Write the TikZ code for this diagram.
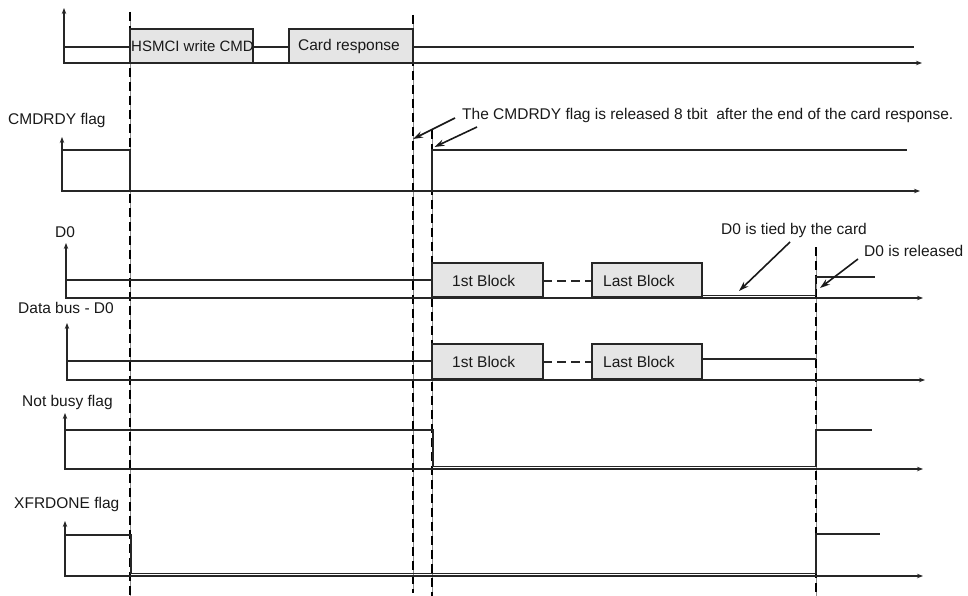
\documentclass[tikz,border=0pt]{standalone}
\usepackage{fontspec}
\setmainfont{Liberation Sans}
\usetikzlibrary{arrows.meta}
\begin{document}
\begin{tikzpicture}[x=1pt,y=-1pt,
  font=\fontsize{15.5}{18}\selectfont,
  sig/.style={line width=1.8pt, draw=black!85},
  axis/.style={line width=1.6pt, draw=black!85, {Stealth[length=6pt,width=4.5pt]}-{Stealth[length=6pt,width=4.5pt]}},
  blk/.style={draw=black!85, line width=2.2pt, fill=black!10},
  lbl/.style={inner sep=0pt, text=black!90},
  note/.style={line width=1.6pt, draw=black!90, -{Stealth[length=10pt,width=6.5pt]}},
  guide/.style={draw=black!45, line width=0.7pt},
  guidedash/.style={draw=black, line width=1.8pt, dash pattern=on 9pt off 5pt}
]
\useasboundingbox (0,0) rectangle (968,596);

% ---- vertical guides ----
\foreach \gx/\gt/\gb in {130/12/596, 413/15/593, 432/130/596, 816/247/596}{
  \draw[guide] (\gx,\gt) -- (\gx,\gb);
  \draw[guidedash] (\gx,\gt) -- (\gx,\gb);
}

% ---- row 1 : command line ----
\draw[axis] (64,8) -- (64,63) -- (922,63);
\draw[sig] (64,46.7) -- (130,46.7);
\draw[blk] (130,29) rectangle (253,63);
\draw[sig] (253,46.7) -- (289,46.7);
\draw[blk] (289,29) rectangle (413,63);
\draw[sig] (413,46.7) -- (914,46.7);
\node[lbl, anchor=west, font=\fontsize{15}{18}\selectfont] (cmd) at (131,46.5) {HSMCI write CMD};
\node[lbl] (resp) at (349,46.5) {Card response};

% ---- row 2 : CMDRDY ----
\node[lbl, anchor=west] (cmdrdy) at (8,120) {CMDRDY flag};
\draw[axis] (62,137) -- (62,191) -- (920,191);
\draw[sig] (62,150) -- (130,150) -- (130,190.5) -- (432,190.5) -- (432,150) -- (907,150);
\node[lbl, anchor=west] (note1) at (462,115) {The CMDRDY flag is released 8 tbit\ \ after the end of the card response.};
\coordinate (n1a) at (455,118);
\coordinate (n1b) at (413,139);
\coordinate (n2a) at (477,127);
\coordinate (n2b) at (434.5,147);
\draw[note] (n1a) -- (n1b);
\draw[note] (n2a) -- (n2b);

% ---- row 3 : D0 ----
\node[lbl] (d0) at (65,232) {D0};
\draw[axis] (66,243) -- (66,298) -- (923,298);
\draw[sig] (66,280) -- (432,280);
\draw[blk] (432,263) rectangle (543,297.5);
\draw[sig, dash pattern=on 9pt off 5pt] (543,281) -- (592,281);
\draw[blk] (592,263) rectangle (702,297.5);
\draw[sig] (702,295.5) -- (815.5,295.5) -- (815.5,277) -- (875,277);
\node[lbl, anchor=west] (b1a) at (452,281) {1st Block};
\node[lbl, anchor=west] (bla) at (603,281) {Last Block};
\node[lbl, anchor=west] (tied) at (721,230) {D0 is tied by the card};
\node[lbl, anchor=west] (rel) at (864,251) {D0 is released};
\coordinate (t1a) at (790,242);
\coordinate (t1b) at (739,291);
\coordinate (r1a) at (858,259);
\coordinate (r1b) at (820,288);
\draw[note] (t1a) -- (t1b);
\draw[note] (r1a) -- (r1b);

% ---- row 4 : Data bus - D0 ----
\node[lbl, anchor=west] (dbus) at (18,308) {Data bus - D0};
\draw[axis] (67,323) -- (67,380) -- (925,380);
\draw[sig] (67,361) -- (432,361);
\draw[blk] (432,344) rectangle (543,379.5);
\draw[sig, dash pattern=on 9pt off 5pt] (543,362) -- (592,362);
\draw[blk] (592,344) rectangle (702,379.5);
\draw[sig] (702,359) -- (816,359);
\node[lbl, anchor=west] (b1b) at (452,362) {1st Block};
\node[lbl, anchor=west] (blb) at (603,362) {Last Block};

% ---- row 5 : Not busy ----
\node[lbl, anchor=west] (nbusy) at (22,402) {Not busy flag};
\draw[axis] (65,413) -- (65,469) -- (923,469);
\draw[sig] (65,430) -- (433,430) -- (433,466.5) -- (816,466.5) -- (816,430) -- (872,430);

% ---- row 6 : XFRDONE ----
\node[lbl, anchor=west] (xfr) at (14,504) {XFRDONE flag};
\draw[axis] (65,521) -- (65,576) -- (923,576);
\draw[sig] (65,535) -- (131,535) -- (131,573.5) -- (816,573.5) -- (816,534) -- (880,534);
\end{tikzpicture}
\end{document}
